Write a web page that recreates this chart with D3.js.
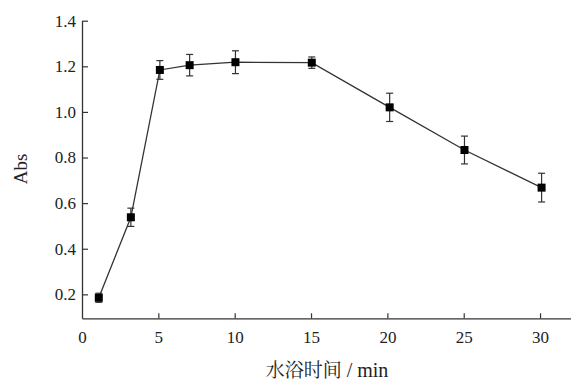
<!DOCTYPE html>
<html><head><meta charset="utf-8">
<script src="https://cdn.jsdelivr.net/npm/d3@7"></script>
<style>body{margin:0;background:#fff}svg{display:block}</style>
</head><body>
<svg id="c" width="571" height="381"></svg>
<script>
const times = [1.1, 3.2, 5.1, 7.05, 10.05, 15.05, 20.15, 25.05, 30.1];
const abs = [0.185, 0.538, 1.184, 1.205, 1.218, 1.216, 1.02, 0.833, 0.668];
const errs = [0.02, 0.04, 0.041, 0.047, 0.05, 0.025, 0.062, 0.061, 0.063];
const xTicks = [0, 5, 10, 15, 20, 25, 30];
const yTicks = [0.2, 0.4, 0.6, 0.8, 1.0, 1.2, 1.4];
const xLabel = ["水浴时间", " / min"];
const yLabel = "Abs";

const svg = d3.select("#c");
const x = d3.scaleLinear().domain([0, 32]).range([82, 570.6]);
const y = d3.scaleLinear().domain([0.095, 1.4]).range([318.3, 20.7]);
const serif = "'Liberation Serif','Times New Roman',serif";
const axisCol = "#333";

// x axis (ticks inward)
const gx = svg.append("g").attr("transform", `translate(0,${y(0.095)})`)
  .call(d3.axisBottom(x).tickValues(xTicks).tickSize(-5).tickSizeOuter(0).tickPadding(13).tickFormat(d3.format("d")));
gx.select(".domain").attr("stroke", axisCol).attr("stroke-width", 1.3);
gx.selectAll(".tick line").attr("stroke", axisCol).attr("stroke-width", 1.2)
  .attr("display", d => d === 0 ? "none" : null);
gx.selectAll(".tick text").attr("font-family", serif).attr("font-size", 17).attr("fill", "#222");

// y axis (ticks inward)
const gy = svg.append("g").attr("transform", `translate(${x(0)},0)`)
  .call(d3.axisLeft(y).tickValues(yTicks).tickSize(-6).tickSizeOuter(0).tickPadding(3).tickFormat(d3.format(".1f")));
gy.select(".domain").attr("stroke", axisCol).attr("stroke-width", 1.3);
gy.selectAll(".tick line").attr("stroke", axisCol).attr("stroke-width", 1.2);
gy.selectAll(".tick text").attr("font-family", serif).attr("font-size", 17).attr("fill", "#222")
  .attr("x", -6);

// line
svg.append("path").datum(times.map((t, i) => [t, abs[i]]))
  .attr("fill", "none").attr("stroke", "#333").attr("stroke-width", 1.3)
  .attr("d", d3.line().x(d => x(d[0])).y(d => y(d[1])));

// error bars
const eb = svg.append("g").attr("stroke", "#333").attr("stroke-width", 1.2);
times.forEach((t, i) => {
  const cx = x(t), y1 = y(abs[i] + errs[i]), y2 = y(abs[i] - errs[i]);
  eb.append("line").attr("x1", cx).attr("x2", cx).attr("y1", y1).attr("y2", y2);
  eb.append("line").attr("x1", cx - 3.5).attr("x2", cx + 3.5).attr("y1", y1).attr("y2", y1);
  eb.append("line").attr("x1", cx - 3.5).attr("x2", cx + 3.5).attr("y1", y2).attr("y2", y2);
});

// markers
svg.append("g").selectAll("rect").data(times).join("rect")
  .attr("x", d => x(d) - 4).attr("y", (d, i) => y(abs[i]) - 4)
  .attr("width", 8).attr("height", 8).attr("fill", "#000");

// labels
svg.append("text").attr("x", 327).attr("y", 377).attr("text-anchor", "middle")
  .attr("fill", "#222")
  .selectAll("tspan").data(xLabel).join("tspan")
  .attr("font-family", (d, i) => i === 0 ? "'Noto Serif CJK SC','Noto Sans CJK SC',serif" : serif)
  .attr("font-size", (d, i) => i === 0 ? 19 : 20)
  .text(d => d);
svg.append("text").attr("transform", "translate(27,169) rotate(-90)").attr("text-anchor", "middle")
  .attr("font-family", serif).attr("font-size", 19).attr("fill", "#222").text(yLabel);
</script>
</body></html>
